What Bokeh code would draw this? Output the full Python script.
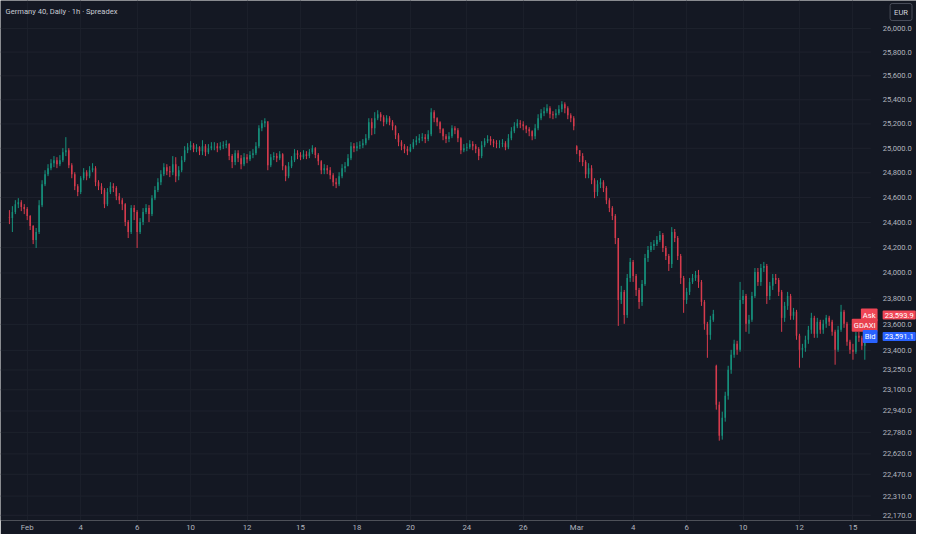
from bokeh.plotting import figure
from bokeh.models import ColumnDataSource, FixedTicker, Label, Range1d
from bokeh.core.properties import value
from bokeh.embed import file_html
from bokeh.resources import INLINE

# hourly candles, Germany 40
closes = [
    24435, 24483, 24547, 24563, 24523, 24507, 24451, 24371, 24260, 24324,
    24539, 24708, 24789, 24838, 24878, 24903, 24870, 24903, 24968, 24984,
    24862, 24789, 24692, 24644, 24756, 24805, 24773, 24821, 24838, 24724,
    24692, 24660, 24547, 24644, 24692, 24676, 24611, 24579, 24547, 24403,
    24324, 24515, 24483, 24324, 24403, 24483, 24515, 24467, 24595, 24660,
    24724, 24789, 24846, 24813, 24805, 24870, 24773, 24821,
    24903, 24984, 25009, 25025, 24993, 25009, 24976, 25017, 24968, 25001,
    25017, 25017, 25001, 25017, 25025, 25034, 24936, 24887, 24960, 24919,
    24870, 24927, 24911, 24944, 24960, 25017, 25165, 25206, 25222, 24862,
    24927, 24936, 24919, 24952, 24854, 24773, 24854, 24903, 24960, 24944,
    24927, 24952, 24936, 24968, 25001, 24944, 24895, 24821, 24838, 24821,
    24781, 24724, 24708, 24773, 24838, 24854,
    24919, 25017, 25001, 25017, 25025, 25042, 25083, 25214, 25165, 25247,
    25280, 25255, 25214, 25247, 25214, 25181, 25107, 25050, 25017, 24993,
    24976, 25009, 25050, 25066, 25083, 25091, 25075, 25116, 25297, 25247,
    25214, 25157, 25099, 25075, 25099, 25165, 25148, 25083, 24984, 25001,
    25009, 25034, 25017, 24993, 24936, 25025, 25058, 25075, 25058, 25042,
    25034, 25034, 25042, 25009, 25083, 25140, 25181, 25206, 25198, 25181,
    25157, 25140, 25099, 25165, 25247, 25288, 25305, 25330, 25280, 25272,
    25288, 25322, 25363, 25330, 25272, 25247, 25181,
    24984, 24936, 24887, 24789, 24838, 24740, 24644, 24708, 24724, 24676,
    24579, 24515, 24451, 24276, 23789, 23852, 23673, 23961, 24087, 23977,
    23867, 23774, 23914, 24118, 24181, 24213, 24228, 24260, 24300, 24197,
    24134, 24071, 24324, 24276, 24134, 23961, 23789, 23852, 23930, 23961,
    23984, 23930, 23774, 23604, 23519, 23635, 23681, 22987, 22755,
    22890, 23055, 23252, 23366, 23450, 23404, 23789, 23820, 23604, 23635,
    23820, 24008, 23930, 24039, 24055, 23820, 23899, 23961, 23945, 23852,
    23650, 23743, 23820, 23666, 23697, 23512, 23404, 23419, 23481, 23558,
    23650, 23527, 23619, 23558, 23604, 23650, 23619, 23542, 23404, 23558,
    23697, 23604, 23465, 23404, 23389, 23512, 23496, 23435, 23592,
]
highs = [
    24499, 24531, 24579, 24595, 24579, 24547, 24523, 24459, 24379, 24356,
    24579, 24740, 24821, 24870, 24911, 24936, 24927, 24944, 25001, 25091,
    25001, 24878, 24805, 24708, 24773, 24838, 24821, 24854, 24878, 24854,
    24740, 24716, 24676, 24676, 24724, 24716, 24692, 24636, 24595, 24555,
    24419, 24539, 24539, 24499, 24435, 24515, 24547, 24539, 24619, 24692,
    24756, 24821, 24878, 24870, 24854, 24936, 24927, 24854,
    24936, 25017, 25042, 25058, 25042, 25034, 25017, 25066, 25034, 25034,
    25050, 25050, 25042, 25050, 25058, 25066, 25042, 24952, 24984, 24984,
    24944, 24960, 24952, 24976, 24993, 25050, 25189, 25231, 25247, 25198,
    24952, 24968, 24960, 24976, 24960, 24862, 24887, 24936, 24993, 24984,
    24968, 24984, 24976, 24993, 25025, 25009, 24960, 24903, 24870, 24862,
    24846, 24797, 24756, 24805, 24870, 24887,
    24952, 25050, 25042, 25050, 25058, 25075, 25116, 25247, 25247, 25297,
    25313, 25297, 25272, 25272, 25264, 25231, 25189, 25124, 25066, 25034,
    25017, 25034, 25075, 25099, 25116, 25124, 25116, 25148, 25330, 25313,
    25255, 25222, 25165, 25116, 25132, 25189, 25181, 25165, 25091, 25034,
    25042, 25066, 25058, 25034, 25009, 25058, 25083, 25107, 25099, 25075,
    25066, 25066, 25075, 25058, 25116, 25173, 25214, 25239, 25231, 25222,
    25189, 25173, 25148, 25198, 25280, 25322, 25338, 25363, 25346, 25305,
    25322, 25355, 25388, 25379, 25346, 25288, 25264,
    25025, 24984, 24960, 24903, 24878, 24862, 24756, 24740, 24756, 24740,
    24692, 24595, 24531, 24467, 24260, 23899, 23867, 23992, 24118, 24102,
    23992, 23883, 23945, 24150, 24213, 24244, 24260, 24292, 24332, 24316,
    24213, 24150, 24363, 24348, 24292, 24150, 23977, 23883, 23961, 23992,
    24016, 24024, 23945, 23789, 23619, 23666, 23712, 23290, 23010,
    22935, 23085, 23282, 23404, 23481, 23473, 23930, 23867, 23836, 23673,
    23852, 24039, 24039, 24071, 24087, 24071, 23930, 23992, 23992, 23961,
    23867, 23774, 23852, 23836, 23727, 23712, 23527, 23450, 23512, 23588,
    23689, 23666, 23650, 23635, 23635, 23673, 23666, 23635, 23558, 23588,
    23751, 23712, 23619, 23481, 23450, 23542, 23542, 23512, 23635,
]
lows = [
    24387, 24324, 24467, 24515, 24491, 24467, 24419, 24340, 24228, 24197,
    24308, 24523, 24692, 24773, 24821, 24846, 24838, 24854, 24887, 24936,
    24838, 24756, 24660, 24611, 24628, 24740, 24740, 24756, 24805, 24692,
    24660, 24628, 24515, 24531, 24628, 24644, 24579, 24547, 24499, 24371,
    24276, 24308, 24419, 24197, 24308, 24379, 24467, 24403, 24451, 24579,
    24644, 24700, 24773, 24781, 24765, 24781, 24724, 24740,
    24805, 24887, 24960, 24984, 24968, 24968, 24944, 24944, 24936, 24952,
    24984, 24984, 24968, 24984, 24993, 25001, 24903, 24838, 24862, 24887,
    24829, 24854, 24878, 24895, 24919, 24944, 25001, 25140, 25173, 24821,
    24846, 24903, 24887, 24903, 24821, 24732, 24756, 24838, 24887, 24911,
    24903, 24911, 24911, 24919, 24952, 24919, 24862, 24789, 24789, 24789,
    24748, 24692, 24676, 24692, 24756, 24805,
    24854, 24903, 24968, 24976, 24993, 25001, 25025, 25066, 25107, 25116,
    25231, 25222, 25181, 25198, 25189, 25148, 25075, 25017, 24984, 24960,
    24944, 24968, 24993, 25025, 25042, 25058, 25042, 25058, 25099, 25214,
    25181, 25124, 25066, 25042, 25050, 25083, 25116, 25050, 24952, 24968,
    24976, 24993, 24984, 24960, 24903, 24919, 25009, 25042, 25025, 25009,
    25001, 25001, 25009, 24984, 24993, 25066, 25124, 25165, 25165, 25148,
    25124, 25099, 25066, 25075, 25148, 25231, 25264, 25288, 25247, 25239,
    25247, 25272, 25297, 25288, 25239, 25214, 25148,
    24952, 24887, 24854, 24756, 24756, 24708, 24595, 24611, 24676, 24644,
    24547, 24483, 24419, 24228, 23588, 23758, 23604, 23650, 23930, 23930,
    23820, 23720, 23743, 23899, 24087, 24165, 24181, 24213, 24244, 24165,
    24102, 24016, 24039, 24244, 24102, 23914, 23689, 23758, 23828, 23914,
    23938, 23883, 23743, 23558, 23343, 23481, 23619, 22950, 22718,
    22726, 22860, 23025, 23221, 23343, 23366, 23389, 23758, 23542, 23527,
    23619, 23805, 23899, 23899, 24008, 23758, 23789, 23867, 23914, 23820,
    23542, 23619, 23712, 23635, 23635, 23481, 23267, 23343, 23389, 23450,
    23527, 23496, 23496, 23527, 23527, 23573, 23588, 23512, 23290, 23389,
    23542, 23573, 23435, 23373, 23328, 23373, 23465, 23404, 23328,
]
first_open = 24440
gap_opens = {191: 25017, 238: 23282}   # weekend / overnight gaps

price_ticks = [26000, 25800, 25600, 25400, 25200, 25000, 24800, 24600, 24400,
               24200, 24000, 23800, 23600, 23400, 23250, 23100, 22940, 22780,
               22620, 22470, 22310, 22170]
date_ticks = [6, 24, 43, 61, 80, 98, 117, 135, 154, 173, 191, 210, 228, 247, 266, 284]
date_labels = ["Feb", "4", "6", "10", "12", "15", "18", "20", "24", "26",
               "Mar", "4", "6", "10", "12", "15"]

ask_price = 23593.9
bid_price = 23591.1
gdaxi_price = 23600.0

BG = "#141823"
UP = "#16927d"
DOWN = "#d63b4d"
TXT = "#b2b5be"
FONT = "Roboto"
SCALE_X = 294.0      # where the price scale text starts (bar units)

opens = [first_open] + closes[:-1]
for k, v in gap_opens.items():
    opens[k] = v

xs = list(range(len(closes)))
colors = [UP if c >= o else DOWN for o, c in zip(opens, closes)]
source = ColumnDataSource(data=dict(
    x=xs, open=opens, close=closes, high=highs, low=lows, color=colors,
    top=[max(o, c) for o, c in zip(opens, closes)],
    bottom=[min(o, c) for o, c in zip(opens, closes)],
))

p = figure(width=916, height=534, x_range=Range1d(-3.0, 305.4),
           y_range=Range1d(22132.3, 26238.9), y_axis_type="log",
           y_axis_location=None, output_backend="svg", toolbar_location=None,
           min_border_left=0, min_border_top=0, min_border_right=0,
           min_border_bottom=13, background_fill_color=BG, border_fill_color=BG,
           outline_line_color=None)
p.ygrid.grid_line_color = None

# horizontal grid, stops at the price scale
p.segment(x0=-3.0, x1=SCALE_X - 4, y0=price_ticks, y1=price_ticks,
          line_color="#1e222d", line_width=1)

p.segment(x0="x", y0="high", x1="x", y1="low", line_color="color", line_width=1, source=source)
p.vbar(x="x", top="top", bottom="bottom", width=0.5, fill_color="color",
       line_color=None, source=source)

# time axis
p.xaxis.ticker = FixedTicker(ticks=date_ticks)
p.xaxis.major_label_overrides = {t: l for t, l in zip(date_ticks, date_labels)}
p.xaxis.axis_line_color = None
p.xaxis.major_tick_line_color = None
p.xaxis.minor_tick_line_color = None
p.xaxis.major_tick_out = 0
p.xaxis.major_tick_in = 0
p.xaxis.major_label_text_color = TXT
p.xaxis.major_label_text_font = FONT
p.xaxis.major_label_text_font_size = "7.8px"
p.xaxis.major_label_standoff = 2
p.xgrid.grid_line_color = "#1b1f2a"

# price scale labels
p.text(x=[SCALE_X] * len(price_ticks), y=price_ticks,
       text=["{:,.1f}".format(t) for t in price_ticks],
       text_color=TXT, text_font=value(FONT), text_font_size="7.6px",
       text_baseline="middle", text_align="left")

# header and price tags
p.add_layout(Label(x=-1.3, y=26145, text="Germany 40, Daily \u00b7 1h \u00b7 Spreadex",
                   text_color="#c8cbd3", text_font=FONT, text_font_size="7.6px",
                   text_baseline="middle"))
p.add_layout(Label(x=300.2, y=26140, text="EUR", text_color="#d1d4dc",
                   text_font=FONT, text_font_size="7.6px", text_baseline="middle",
                   text_align="center", border_line_color="#4a4e5a",
                   background_fill_color=BG, padding=4, border_radius=2))


def tag(x, y, text, fill, align, dy, color="#ffffff"):
    p.add_layout(Label(x=x, y=y, y_offset=dy, text=text, text_color=color,
                       text_font=FONT, text_font_size="7.6px", text_baseline="middle",
                       text_align=align, background_fill_color=fill, padding=2,
                       border_radius=1))


tag(SCALE_X - 1.7, ask_price, "Ask", "#f04656", "right", 10)
tag(SCALE_X, ask_price, "{:,.1f}".format(ask_price), "#f04656", "left", 10)
tag(SCALE_X - 1.7, gdaxi_price, "GDAXI", "#e8414f", "right", -1)
tag(SCALE_X - 1.7, bid_price, "Bid", "#2962ff", "right", -11)
tag(SCALE_X, bid_price, "{:,.1f}".format(bid_price), "#2962ff", "left", -11)

open("out.html", "w").write(file_html(p, INLINE))
